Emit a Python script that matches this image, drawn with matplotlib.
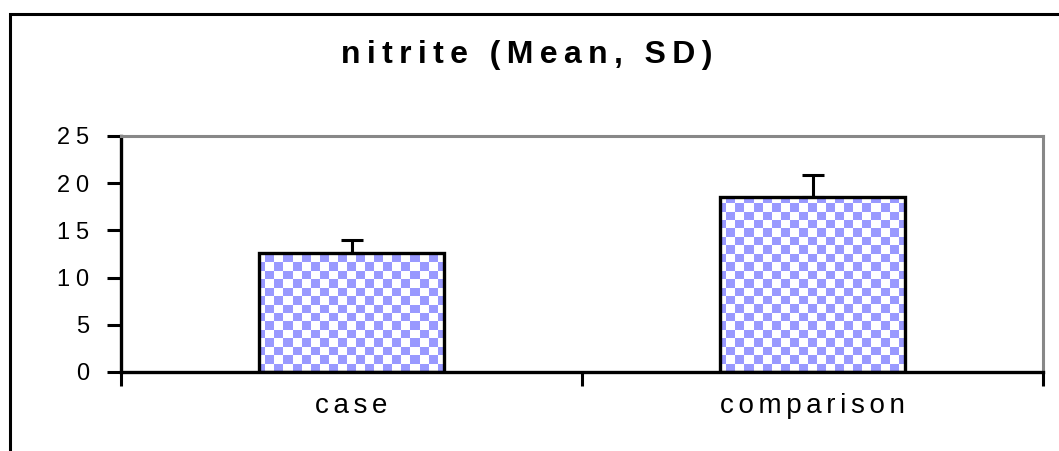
import matplotlib
matplotlib.use("Agg")
import matplotlib.pyplot as plt
import numpy as np
from matplotlib.colors import ListedColormap
from matplotlib.patches import Rectangle

# nitrite bar chart, mean with upward SD error bar
categories = ["case", "comparison"]
means = [12.6, 18.5]
sds = [1.4, 2.4]
yticks = [0, 5, 10, 15, 20, 25]
title = "nitrite (Mean, SD)"

plt.rcParams['font.family'] = ['Liberation Sans', 'DejaVu Sans']


def spaced(s, gap):
    # the original text is drawn wide, so pad between letters
    return gap.join(s)


fig = plt.figure(figsize=(10.59, 4.51), dpi=100)
ax = fig.add_axes([121 / 1059, 79 / 451, 922 / 1059, 236 / 451])

# outer chart frame (runs off the right and bottom edges)
fig.patches.append(Rectangle((10 / 1059, -0.05), 1.2, (451 - 14) / 451 + 0.05,
                             transform=fig.transFigure, fill=False,
                             edgecolor='black', linewidth=2.2, clip_on=False))

x = np.arange(len(categories))
bars = ax.bar(x, means, width=0.4, facecolor='none', edgecolor='black',
              linewidth=2.4, zorder=3)

# checkerboard fill clipped to each bar
nx, ny = 102, 28
checker = (np.indices((ny, nx)).sum(axis=0) % 2)
cmap = ListedColormap(['#9999ff', 'white'])
for b in bars:
    im = ax.imshow(checker, cmap=cmap, extent=[0, 1, 0, 1], transform=ax.transAxes,
                   interpolation='nearest', aspect='auto', zorder=2)
    im.set_clip_path(b)

ax.errorbar(x, means, yerr=[[0, 0], sds], fmt='none', ecolor='black',
            elinewidth=2.2, capsize=8, capthick=2.2, zorder=4)

ax.set_xlim(-0.5, 1.5)
ax.set_ylim(0, 25)
ax.set_yticks(yticks)
ax.set_yticklabels([spaced(str(t), '\u2005') for t in yticks], fontsize=17)
ax.set_xticks([-0.5, 0.5, 1.5])
ax.set_xticklabels([])
ax.set_xticks(x, minor=True)
ax.set_xticklabels([spaced(c, '\u2006') for c in categories], minor=True, fontsize=20)
ax.tick_params(axis='x', which='minor', length=0, pad=15)
ax.tick_params(axis='x', which='major', length=10, width=2.2, direction='out')
ax.tick_params(axis='y', length=10, width=2.2, direction='out', pad=13)

for s in ['left', 'bottom']:
    ax.spines[s].set_color('black')
    ax.spines[s].set_linewidth(2.4)
for s in ['top', 'right']:
    ax.spines[s].set_color('#888888')
    ax.spines[s].set_linewidth(2.2)

fig.text(527 / 1059, (451 - 63) / 451, spaced(title, '\u2009'), ha='center',
         va='baseline', fontsize=23, fontweight='bold')

fig.savefig("out.png", dpi=100)
